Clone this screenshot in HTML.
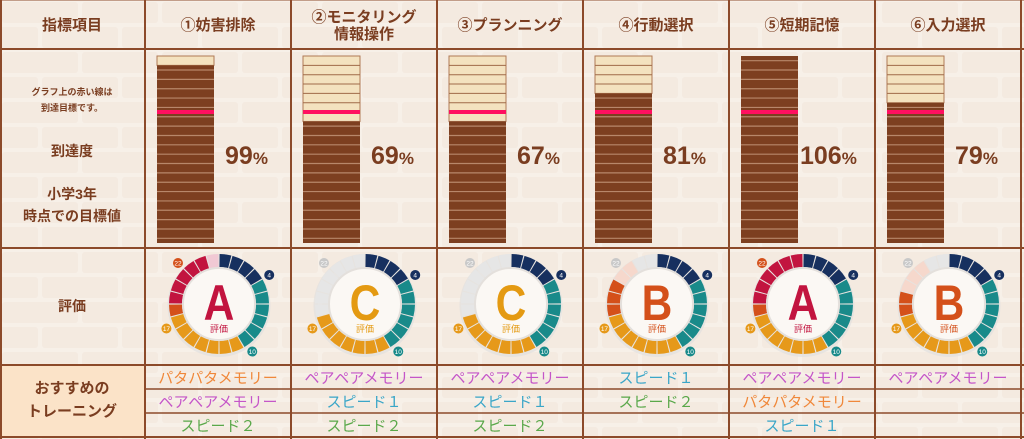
<!DOCTYPE html>
<html><head><meta charset="utf-8">
<style>
html,body{margin:0;padding:0;width:1024px;height:439px;overflow:hidden;background:#f6efe6;}
svg{display:block}
text{font-family:"Liberation Sans","Noto Sans CJK JP",sans-serif;}
</style></head><body>
<svg id="s" width="1024" height="439" viewBox="0 0 1024 439" xmlns="http://www.w3.org/2000/svg"></svg>
<script>
(function(){
var s=document.getElementById('s');var h='';
h+='<rect width="1024" height="439" fill="#f7f0e8"/>';
for(var r=0;r<18;r++){var y=r*25;var off=(r%2)*40;for(var x=-80+off;x<1024;x+=80){h+='<rect x="'+(x+2)+'" y="'+(y+2)+'" width="76" height="21" rx="3" fill="#f1e6da" opacity="0.6"/>';}}
h+='<rect x="0" y="365" width="145" height="72" fill="#fbe3c8"/>';
var C0=145,W=146;
var cols=['①妨害排除','②モニタリング','③プランニング','④行動選択','⑤短期記憶','⑥入力選択'];
var pct=[99,69,67,81,106,79];
var grade=['A','C','C','B','A','B'];
var gcol={A:'#c2143f',B:'#d4501a',C:'#e49a12'};
h+='<text x="72" y="30" font-size="15" font-weight="bold" fill="#7a3d20" text-anchor="middle">指標項目</text>';
for(var i=0;i<6;i++){var cx=C0+i*W+73;
 if(i==1){h+='<text x="'+cx+'" y="22" font-size="15" font-weight="bold" fill="#7a3d20" text-anchor="middle">②モニタリング</text><text x="'+cx+'" y="39" font-size="15" font-weight="bold" fill="#7a3d20" text-anchor="middle">情報操作</text>';}
 else h+='<text x="'+cx+'" y="30" font-size="15" font-weight="bold" fill="#7a3d20" text-anchor="middle">'+cols[i]+'</text>';}
h+='<text x="72" y="95" font-size="9" fill="#7a3d20" text-anchor="middle" font-weight="bold">グラフ上の赤い線は</text>';
h+='<text x="72" y="111" font-size="9" fill="#7a3d20" text-anchor="middle" font-weight="bold">到達目標です。</text>';
h+='<text x="72" y="156" font-size="14" fill="#7a3d20" text-anchor="middle" font-weight="bold">到達度</text>';
h+='<text x="72" y="199" font-size="14" fill="#7a3d20" text-anchor="middle" font-weight="bold">小学3年</text>';
h+='<text x="72" y="221" font-size="14" fill="#7a3d20" text-anchor="middle" font-weight="bold">時点での目標値</text>';
h+='<text x="72" y="311" font-size="14" fill="#7a3d20" text-anchor="middle" font-weight="bold">評価</text>';
h+='<text x="72" y="393" font-size="15" fill="#7a3d20" text-anchor="middle" font-weight="bold">おすすめの</text>';
h+='<text x="72" y="416" font-size="15" fill="#7a3d20" text-anchor="middle" font-weight="bold">トレーニング</text>';
var seg=187/20;
for(var i=0;i<6;i++){var bx=C0+i*W+12,bw=57,tp=56,bot=243;
 var filled=Math.min(20,Math.floor(pct[i]/5));var ft=bot-filled*seg;
 if(filled<20){h+='<rect x="'+bx+'" y="'+tp+'" width="'+bw+'" height="'+(ft-tp)+'" fill="#f4e2bf" stroke="#b07a56" stroke-width="1"/>';
 for(var k=1;k<20-filled;k++){var ly=tp+k*seg;h+='<line x1="'+bx+'" x2="'+(bx+bw)+'" y1="'+ly+'" y2="'+ly+'" stroke="#a06a48" stroke-width="1"/>';}}
 h+='<rect x="'+bx+'" y="'+ft+'" width="'+bw+'" height="'+(bot-ft)+'" fill="#7d3f20"/>';
 for(var k=20-filled;k<20;k++){var ly=tp+k*seg+seg*0.5;if(ly<bot-2)h+='<line x1="'+bx+'" x2="'+(bx+bw)+'" y1="'+ly+'" y2="'+ly+'" stroke="#b8876a" stroke-width="1.2"/>';}
 h+='<rect x="'+bx+'" y="110" width="'+bw+'" height="4" fill="#ff1060"/>';
 var tx=C0+i*W+(pct[i]>=100?71:80);
 h+='<text x="'+tx+'" y="164" font-size="25" font-weight="bold" fill="#7a3d20">'+pct[i]+'<tspan font-size="17">%</tspan></text>';
}
function pt(cx,cy,r,a){var t=(a-90)*Math.PI/180;return [cx+r*Math.cos(t),cy+r*Math.sin(t)];}
var NAV='#17305f',TEAL='#198a8a',OR='#e6991a',OR2='#d4501a',CR='#c2143f',PK='#f1c9d4',PE='#f6d8cc',GR='#e6e6e6';
function mk(f){var a=[];for(var k=0;k<24;k++)a.push(k<4?NAV:k<10?TEAL:k<17?OR:f(k));return a;}
var segs=[
 mk(function(k){return k==17?OR2:k<23?CR:PK;}),
 mk(function(k){return GR;}),
 mk(function(k){return GR;}),
 mk(function(k){return k<20?OR2:k<22?PE:GR;}),
 mk(function(k){return k==17?OR2:CR;}),
 mk(function(k){return k<19?OR2:k<22?PE:GR;})];
for(var i=0;i<6;i++){var cx=C0+i*W+74,cy=304,R=50,r=37;
 h+='<circle cx="'+cx+'" cy="'+(cy+1.5)+'" r="'+(R+1.5)+'" fill="#ddd" opacity="0.6"/>';
 for(var k=0;k<24;k++){var a0=k*15+0.7,a1=(k+1)*15-0.7;var p1=pt(cx,cy,R,a0),p2=pt(cx,cy,R,a1),p3=pt(cx,cy,r,a1),p4=pt(cx,cy,r,a0);
  h+='<path d="M'+p1+' A'+R+' '+R+' 0 0 1 '+p2+' L'+p3+' A'+r+' '+r+' 0 0 0 '+p4+'Z" fill="'+segs[i][k]+'"/>';}
 h+='<circle cx="'+cx+'" cy="'+cy+'" r="'+(r-1)+'" fill="#fbf8f4" stroke="#e4e0dc" stroke-width="2"/>';
 h+='<text transform="translate('+cx+','+(cy+16)+') scale(0.85,1)" font-size="50" font-weight="bold" fill="'+gcol[grade[i]]+'" text-anchor="middle">'+grade[i]+'</text>';
 h+='<text x="'+cx+'" y="'+(cy+28)+'" font-size="9" fill="'+gcol[grade[i]]+'" text-anchor="middle">評価</text>';
 var labs=[[4,60,NAV],[10,145,TEAL],[17,245,OR],[22,315,segs[i][22]==GR?'#c8c8c8':OR2]];
 for(var j=0;j<4;j++){var p=pt(cx,cy,58,labs[j][1]);h+='<circle cx="'+p[0]+'" cy="'+p[1]+'" r="5" fill="'+labs[j][2]+'"/><text x="'+p[0]+'" y="'+(p[1]+2.5)+'" font-size="6.5" fill="#fff" text-anchor="middle">'+labs[j][0]+'</text>';}
}
var PT='#f0883a',PA='#c556c8',S1='#3aa6c8',S2='#5aa84a';
var tr=[[['パタパタメモリー',PT],['ペアペアメモリー',PA],['スピード２',S2]],
[['ペアペアメモリー',PA],['スピード１',S1],['スピード２',S2]],
[['ペアペアメモリー',PA],['スピード１',S1],['スピード２',S2]],
[['スピード１',S1],['スピード２',S2],null],
[['ペアペアメモリー',PA],['パタパタメモリー',PT],['スピード１',S1]],
[['ペアペアメモリー',PA],null,null]];
var ry=[383,407,431];
for(var i=0;i<6;i++)for(var j=0;j<3;j++){var t=tr[i][j];if(t)h+='<text x="'+(C0+i*W+73)+'" y="'+ry[j]+'" font-size="15" fill="'+t[1]+'" text-anchor="middle">'+t[0]+'</text>';}
var L='#8c4a2a';
[[0,1],[49,2],[248,2],[365,2],[389,1.5],[413,1.5],[437,2]].forEach(function(v){var x0=(v[0]==389||v[0]==413)?145:0;h+='<rect x="'+x0+'" y="'+(v[0]-v[1]/2)+'" width="'+(1024-x0)+'" height="'+v[1]+'" fill="'+L+'"/>';});
for(var i=0;i<=6;i++){var x=C0+i*W;h+='<rect x="'+(x-1)+'" y="0" width="2" height="439" fill="'+L+'"/>';}
h+='<rect x="0" y="0" width="2" height="439" fill="'+L+'"/>';
s.innerHTML=h;
})();
</script>
</body></html>
